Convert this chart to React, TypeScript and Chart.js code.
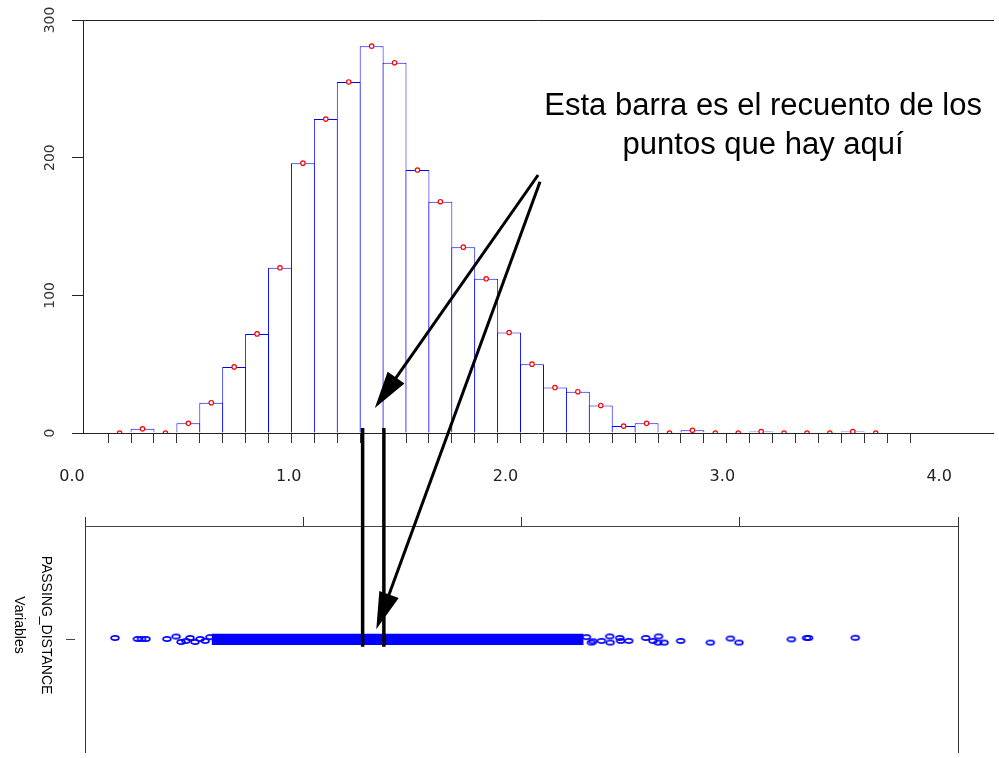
import React, { useEffect, useRef } from "react";
import { Chart, registerables } from "chart.js";

Chart.register(...registerables);

// ---------- Top panel: histogram ----------
const binCenters = [
  0.2194, 0.3251, 0.4308, 0.5365, 0.6422, 0.7479, 0.8536, 0.9593, 1.065, 1.1707,
  1.2764, 1.3821, 1.4878, 1.5935, 1.6992, 1.8049, 1.9106, 2.0163, 2.122, 2.2277,
  2.3334, 2.4391, 2.5448, 2.6505, 2.7562, 2.8619, 2.9676, 3.0733, 3.179, 3.2847,
  3.3904, 3.4961, 3.6018, 3.7075, 3.8132,
];
const binCounts = [
  0, 3, 0, 7, 22, 48, 72, 120, 196, 228,
  255, 281, 269, 191, 168, 135, 112, 73, 50, 33,
  30, 20, 5, 7, 0, 2, 0, 0, 1, 0,
  0, 0, 1, 0, 0,
];
// red markers are shown on every bin but the last one
const markerBinCount = 34;
const topXTicks = [0, 1, 2, 3, 4];
const topYTicks = [0, 100, 200, 300];
const topXMin = 0.0505;
const topXMax = 4.2523;

// ---------- Bottom panel: strip chart ----------
const stripTicks = [0, 1, 2, 3, 4];
const stripX = [
  0.137, 0.24, 0.259, 0.279, 0.375, 0.417, 0.44, 0.462, 0.481, 0.504, 0.527, 0.55, 0.572,
  2.297, 2.32, 2.327, 2.366, 2.404, 2.406, 2.45, 2.454, 2.491, 2.569, 2.602, 2.628, 2.625,
  2.653, 2.729, 2.865, 2.957, 2.996, 3.236, 3.306, 3.315, 3.529,
];
const stripY = [
  0.009, 0, 0, 0, 0, 0.022, -0.026, -0.017, 0.009, -0.026, 0, -0.017, 0.017,
  0.017, -0.032, -0.02, -0.017, 0.023, -0.032, 0.009, -0.017, -0.017, 0.009, -0.017, 0.023, -0.032,
  -0.032, -0.017, -0.032, 0.004, -0.032, -0.003, 0.009, 0.009, 0.011,
];
// region where the circles overlap into a solid band
const denseRangeX = [0.58, 2.285];
const denseTop = 0.046;
const denseBottom = -0.054;
const stripLabelLines = ["PASSING_DISTANCE", "Variables"];

// ---------- Annotation ----------
const noteLines = ["Esta barra es el recuento de los", "puntos que hay aquí"];
const noteX = 3.188;
const noteBaselines = [231.0, 202.7];
const arrowTails = [
  [2.15, 187.4],
  [2.159, 182.5],
];
const arrowTipTop = [1.3968, 18.2]; // in top panel units
const arrowTipBottom = [1.3347, 0.086]; // in bottom panel units
const markerLineX = [1.3405, 1.4385]; // top panel units
const markerLineTop = 3.6; // top panel y
const markerLineBottom = -0.069; // bottom panel y

const BLUE = "#0000ff";
const AXIS = "#222222";
const BOTTOM_OFFSET = 500;

export default function App() {
  const topRef = useRef<HTMLCanvasElement>(null);
  const botRef = useRef<HTMLCanvasElement>(null);
  const ovRef = useRef<HTMLCanvasElement>(null);

  useEffect(() => {
    Chart.defaults.font.family = "'Liberation Sans', Arial, sans-serif";

    const top = new Chart(topRef.current!, {
      type: "bar",
      data: {
        datasets: [
          {
            type: "line",
            label: "markers",
            data: binCenters.slice(0, markerBinCount).map((x, i) => ({ x, y: binCounts[i] })),
            showLine: false,
            pointRadius: 2.2,
            pointBorderWidth: 1.2,
            pointBorderColor: "#ff0000",
            pointBackgroundColor: "#ffffff",
            order: 0,
            xAxisID: "x",
            yAxisID: "y",
          } as any,
          {
            type: "bar",
            label: "counts",
            data: binCenters.map((x, i) => ({ x, y: binCounts[i] })),
            backgroundColor: "#ffffff",
            borderColor: BLUE,
            borderWidth: { top: 1, left: 1, right: 1, bottom: 0 },
            borderSkipped: false,
            inflateAmount: 0,
            barPercentage: 1.0434,
            categoryPercentage: 1,
            order: 1,
            xAxisID: "x",
            yAxisID: "y",
          } as any,
        ],
      },
      options: {
        responsive: false,
        animation: false,
        events: [],
        layout: { padding: { top: 20, left: 0, right: 0, bottom: 0 } },
        plugins: { legend: { display: false }, tooltip: { enabled: false } },
        scales: {
          x: {
            type: "linear",
            position: "bottom",
            offset: false,
            weight: 1,
            min: topXMin,
            max: topXMax,
            afterBuildTicks: (s: any) => {
              s.ticks = topXTicks.map((v) => ({ value: v }));
            },
            afterFit: (s: any) => {
              s.height = 67;
            },
            grid: { display: false, drawTicks: false, offset: false },
            border: { display: true, color: AXIS, width: 1 },
            ticks: {
              autoSkip: false,
              minRotation: 0,
              maxRotation: 0,
              padding: 34,
              color: "#222",
              font: { family: "'DejaVu Sans'", size: 16 },
              callback: (v: any) => Number(v).toFixed(1),
            },
          },
          xb: {
            type: "linear",
            position: "bottom",
            offset: false,
            weight: 0,
            min: topXMin,
            max: topXMax,
            afterBuildTicks: (s: any) => {
              s.ticks = binCenters.map((v) => ({ value: v }));
            },
            afterFit: (s: any) => {
              s.height = 0;
            },
            grid: {
              display: true,
              drawOnChartArea: false,
              drawTicks: true,
              tickLength: 10,
              tickColor: "#333",
              tickWidth: 1,
            },
            border: { display: false },
            ticks: { display: false },
          },
          xTop: {
            type: "linear",
            position: "top",
            offset: false,
            min: topXMin,
            max: topXMax,
            afterFit: (s: any) => {
              s.height = 0;
            },
            grid: { display: false, drawTicks: false },
            border: { display: true, color: AXIS, width: 1 },
            ticks: { display: false },
          },
          y: {
            type: "linear",
            position: "left",
            min: 0,
            max: 300,
            afterBuildTicks: (s: any) => {
              s.ticks = topYTicks.map((v) => ({ value: v }));
            },
            afterFit: (s: any) => {
              s.width = 83;
            },
            grid: { drawOnChartArea: false, tickLength: 11, tickColor: AXIS },
            border: { display: true, color: AXIS, width: 1 },
            ticks: {
              minRotation: 90,
              maxRotation: 90,
              crossAlign: "center",
              padding: 8,
              color: "#333",
              font: { family: "'DejaVu Sans'", size: 14 },
            },
          },
        } as any,
      },
    });

    const ell = document.createElement("canvas");
    ell.width = 12;
    ell.height = 8;
    const ec = ell.getContext("2d")!;
    ec.strokeStyle = BLUE;
    ec.lineWidth = 1.7;
    ec.beginPath();
    ec.ellipse(6, 4, 3.9, 2.1, 0, 0, Math.PI * 2);
    ec.stroke();

    const bot = new Chart(botRef.current!, {
      type: "scatter",
      data: {
        datasets: [
          {
            type: "scatter",
            label: "PASSING_DISTANCE",
            data: stripX.map((x, i) => ({ x, y: stripY[i] })),
            pointStyle: ell,
            pointRadius: 5,
            order: 0,
          } as any,
          {
            type: "line",
            label: "dense",
            data: [
              { x: denseRangeX[0], y: denseTop },
              { x: denseRangeX[1], y: denseTop },
            ],
            borderWidth: 0,
            pointRadius: 0,
            fill: { value: denseBottom },
            backgroundColor: BLUE,
            order: 1,
          } as any,
        ],
      },
      options: {
        responsive: false,
        animation: false,
        events: [],
        layout: { padding: { top: 26, left: 0, right: 41, bottom: 0 } },
        plugins: { legend: { display: false }, tooltip: { enabled: false } },
        scales: {
          x: {
            type: "linear",
            position: "top",
            min: 0,
            max: 4,
            afterBuildTicks: (s: any) => {
              s.ticks = stripTicks.map((v) => ({ value: v }));
            },
            afterFit: (s: any) => {
              s.height = 0;
            },
            grid: { drawOnChartArea: false, tickLength: 9, tickColor: "#333" },
            border: { display: true, color: "#444", width: 1 },
            ticks: { display: false },
          },
          y: {
            type: "linear",
            position: "left",
            min: -1,
            max: 1,
            afterBuildTicks: (s: any) => {
              s.ticks = [{ value: 0 }];
            },
            afterFit: (s: any) => {
              s.width = 85;
            },
            grid: {
              drawOnChartArea: false,
              tickLength: 19,
              tickColor: "#444",
              tickBorderDash: [9, 40],
            },
            border: { display: true, color: "#333", width: 1 },
            ticks: {
              minRotation: -90,
              maxRotation: -90,
              crossAlign: "center",
              padding: -36,
              labelOffset: -14,
              color: "#000",
              font: { family: "'Liberation Sans'", size: 14, lineHeight: 1.95 },
              callback: () => stripLabelLines,
            },
          },
          y2: {
            type: "linear",
            position: "right",
            min: -1,
            max: 1,
            afterFit: (s: any) => {
              s.width = 0;
            },
            grid: { display: false, drawTicks: false },
            border: { display: true, color: "#333", width: 1 },
            ticks: { display: false },
          },
        } as any,
      },
    });

    // ---------- overlay annotation ----------
    const ov = ovRef.current!;
    const ctx = ov.getContext("2d")!;
    ctx.clearRect(0, 0, ov.width, ov.height);
    const sx: any = top.scales.x;
    const sy: any = top.scales.y;
    const bx: any = bot.scales.x;
    const by: any = bot.scales.y;
    const pTop = (x: number, y: number) => [sx.getPixelForValue(x), sy.getPixelForValue(y)];
    const pBot = (x: number, y: number) => [
      bx.getPixelForValue(x),
      by.getPixelForValue(y) + BOTTOM_OFFSET,
    ];

    ctx.strokeStyle = "#000";
    ctx.fillStyle = "#000";
    ctx.lineWidth = 3.5;
    markerLineX.forEach((v) => {
      const [x, y1] = pTop(v, markerLineTop);
      const y2 = by.getPixelForValue(markerLineBottom) + BOTTOM_OFFSET;
      ctx.beginPath();
      ctx.moveTo(x, y1);
      ctx.lineTo(x, y2);
      ctx.stroke();
    });

    const drawArrow = (x0: number, y0: number, x1: number, y1: number) => {
      const L = 37;
      const W = 10.3;
      const dx = x1 - x0;
      const dy = y1 - y0;
      const len = Math.hypot(dx, dy);
      const ux = dx / len;
      const uy = dy / len;
      const hx = x1 - ux * L;
      const hy = y1 - uy * L;
      ctx.lineWidth = 3;
      ctx.beginPath();
      ctx.moveTo(x0, y0);
      ctx.lineTo(hx + ux * 2, hy + uy * 2);
      ctx.stroke();
      ctx.beginPath();
      ctx.moveTo(x1, y1);
      ctx.lineTo(hx - uy * W, hy + ux * W);
      ctx.lineTo(hx + uy * W, hy - ux * W);
      ctx.closePath();
      ctx.fill();
    };
    {
      const [x0, y0] = pTop(arrowTails[0][0], arrowTails[0][1]);
      const [x1, y1] = pTop(arrowTipTop[0], arrowTipTop[1]);
      drawArrow(x0, y0, x1, y1);
    }
    {
      const [x0, y0] = pTop(arrowTails[1][0], arrowTails[1][1]);
      const [x1, y1] = pBot(arrowTipBottom[0], arrowTipBottom[1]);
      drawArrow(x0, y0, x1, y1);
    }

    ctx.font = "31px 'Liberation Sans', Arial, sans-serif";
    ctx.textAlign = "center";
    ctx.textBaseline = "alphabetic";
    noteLines.forEach((t, i) => {
      const [x, y] = pTop(noteX, noteBaselines[i]);
      ctx.fillText(t, x, y);
    });

    return () => {
      top.destroy();
      bot.destroy();
      ctx.clearRect(0, 0, ov.width, ov.height);
    };
  }, []);

  return (
    <div
      style={{
        position: "fixed",
        left: 0,
        top: 0,
        width: 999,
        height: 758,
        background: "#ffffff",
        overflow: "hidden",
      }}
    >
      <canvas
        ref={topRef}
        width={999}
        height={500}
        style={{ position: "absolute", left: 0, top: 0, display: "block" }}
      />
      <canvas
        ref={botRef}
        width={999}
        height={258}
        style={{ position: "absolute", left: 0, top: BOTTOM_OFFSET, display: "block" }}
      />
      <canvas
        ref={ovRef}
        width={999}
        height={758}
        style={{ position: "absolute", left: 0, top: 0, display: "block", pointerEvents: "none" }}
      />
    </div>
  );
}
